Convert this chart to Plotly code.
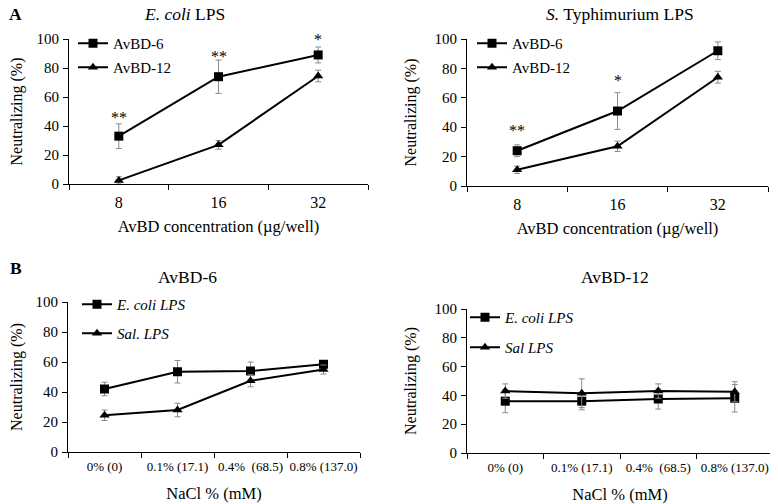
import plotly.graph_objects as go

# panel A data
conc = ["8", "16", "32"]
ecoli_avbd6 = [33, 74, 89]
ecoli_avbd6_err = [8.5, 11.5, 5.5]
ecoli_avbd12 = [2.5, 27, 74.5]
ecoli_avbd12_err = [2.5, 3, 4]
ecoli_stars = ["**", "**", "*"]
ecoli_star_y = [46, 88, 100]

sal_avbd6 = [24, 51, 92]
sal_avbd6_err = [4, 12.5, 6]
sal_avbd12 = [11, 27, 74]
sal_avbd12_err = [2.5, 3.5, 4]
sal_stars = ["**", "*", "*"]
sal_star_y = [38, 72, 103]

# panel B data
nacl = ["0% (0)", "0.1% (17.1)", "0.4%  (68.5)", "0.8% (137.0)"]
b6_ecoli = [42, 53.5, 54, 58.5]
b6_ecoli_err = [4.5, 7.5, 6, 2]
b6_sal = [24.5, 28, 47.5, 55]
b6_sal_err = [3.5, 4.5, 4, 3]
b12_ecoli = [36, 36, 37.5, 38]
b12_ecoli_err = [8, 6, 7, 9.5]
b12_sal = [43, 41.5, 43, 42.5]
b12_sal_err = [5, 10, 5, 7]

FONT = "Liberation Serif, Times New Roman, DejaVu Serif, serif"
ERRC = "#8a8a8a"
W, H = 778, 504
OFF = 8  # page body margin: the figure shows up 8px right and down

def fx(p):
    return (p - OFF) / W

def fy(p):
    return 1 - (p - OFF) / H

fig = go.Figure()

def add(x, y, err, name, sym, xa, ya, leg):
    fig.add_trace(go.Scatter(
        x=x, y=y, name=name, mode="lines+markers",
        line=dict(color="black", width=2),
        marker=dict(symbol=sym, size=9, color="black"),
        error_y=dict(type="data", array=err, color=ERRC, thickness=1, width=3),
        xaxis=xa, yaxis=ya, legend=leg, legendgroup=leg + name))

add(conc, ecoli_avbd6, ecoli_avbd6_err, "AvBD-6", "square", "x", "y", "legend")
add(conc, ecoli_avbd12, ecoli_avbd12_err, "AvBD-12", "triangle-up", "x", "y", "legend")
add(conc, sal_avbd6, sal_avbd6_err, "AvBD-6", "square", "x2", "y2", "legend2")
add(conc, sal_avbd12, sal_avbd12_err, "AvBD-12", "triangle-up", "x2", "y2", "legend2")
add(nacl, b6_ecoli, b6_ecoli_err, "<i>E. coli LPS</i>", "square", "x3", "y3", "legend3")
add(nacl, b6_sal, b6_sal_err, "<i>Sal. LPS</i>", "triangle-up", "x3", "y3", "legend3")
add(nacl, b12_ecoli, b12_ecoli_err, "<i>E. coli LPS</i>", "square", "x4", "y4", "legend4")
add(nacl, b12_sal, b12_sal_err, "<i>Sal LPS</i>", "triangle-up", "x4", "y4", "legend4")

xbase = dict(type="category", showline=True, linecolor="black", linewidth=1,
             ticks="outside", ticklen=5, tickcolor="black", tickson="boundaries",
             showgrid=False, zeroline=False, automargin=False, ticklabelstandoff=4,
             tickangle=0, tickfont=dict(family=FONT, size=16, color="black"))
ybase = dict(range=[0, 100], dtick=20, showline=True, linecolor="black", linewidth=1,
             ticks="outside", ticklen=5, tickcolor="black", showgrid=False, zeroline=False,
             automargin=False, ticklabelstandoff=1,
             tickfont=dict(family=FONT, size=15, color="black"),
             title=dict(text="Neutralizing (%)", font=dict(family=FONT, size=16, color="black"), standoff=13))

xt_a = dict(text="AvBD concentration (µg/well)", font=dict(family=FONT, size=16.5, color="black"), standoff=10)
xt_b = dict(text="NaCl % (mM)", font=dict(family=FONT, size=16.5, color="black"), standoff=14)

ra = [-0.5, len(conc) - 0.5]
rb = [-0.5, len(nacl) - 0.5]
tfb = dict(family=FONT, size=13, color="black")

fig.update_layout(
    width=W, height=H, margin=dict(l=0, r=0, t=0, b=0),
    paper_bgcolor="white", plot_bgcolor="white",
    font=dict(family=FONT, color="black"),
    xaxis=dict(xbase, domain=[fx(69), fx(368)], anchor="y", title=xt_a, range=ra),
    yaxis=dict(ybase, domain=[fy(184), fy(39)], anchor="x"),
    xaxis2=dict(xbase, domain=[fx(467), fx(768)], anchor="y2", title=xt_a, range=ra),
    yaxis2=dict(ybase, domain=[fy(186), fy(39)], anchor="x2"),
    xaxis3=dict(xbase, domain=[fx(68), fx(360)], anchor="y3", title=xt_b, range=rb,
                tickfont=tfb, ticklabelstandoff=2),
    yaxis3=dict(ybase, domain=[fy(452), fy(302)], anchor="x3"),
    xaxis4=dict(xbase, domain=[fx(467), fx(773)], anchor="y4", title=xt_b, range=rb,
                tickfont=tfb, ticklabelstandoff=2),
    yaxis4=dict(ybase, domain=[fy(453), fy(309)], anchor="x4"),
)

legfont = dict(family=FONT, size=15, color="black")
for key, lx, top, gap in [("legend", 73, 27, 1.5), ("legend2", 472, 27, 1.5),
                          ("legend3", 77, 288, 6.5), ("legend4", 465, 301, 7.5)]:
    fig.update_layout({key: dict(x=fx(lx), y=fy(top), xanchor="left", yanchor="top",
                                 bgcolor="rgba(0,0,0,0)", font=legfont, itemwidth=30,
                                 tracegroupgap=gap)})

# significance stars (x given as category position)
for ys, txt, xr, yr in [(ecoli_star_y, ecoli_stars, "x", "y"),
                        (sal_star_y, sal_stars, "x2", "y2")]:
    for i, (yv, t) in enumerate(zip(ys, txt)):
        fig.add_annotation(x=i, y=yv, text=t, xref=xr, yref=yr, showarrow=False,
                           font=dict(family=FONT, size=16, color="#000000"))

# panel titles
titles = [("<i>E. coli</i> LPS", 184, 14), ("<i>S.</i> Typhimurium LPS", 620, 14),
          ("AvBD-6", 187, 277), ("AvBD-12", 615, 277), ("<b>A</b>", 16, 14), ("<b>B</b>", 16, 268)]
for t, px_, py_ in titles:
    fig.add_annotation(x=fx(px_), y=fy(py_), xref="paper", yref="paper", text=t,
                       xanchor="center", yanchor="middle",
                       showarrow=False, font=dict(family=FONT, size=17.5, color="black"))

fig.write_html("out.html")
